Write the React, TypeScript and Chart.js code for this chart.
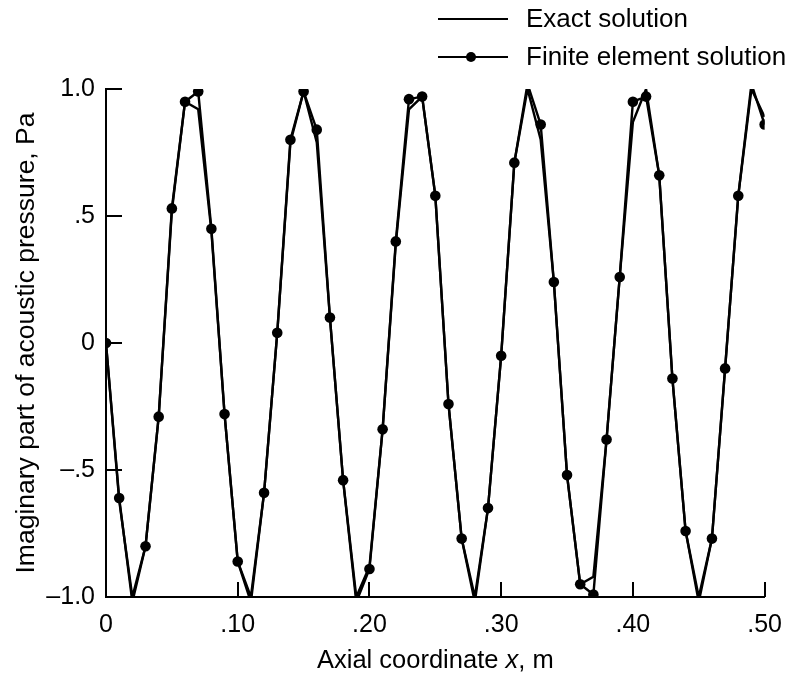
import React, { useEffect, useRef } from "react";
import { Chart, registerables } from "chart.js";

Chart.register(...registerables);

// Axial positions of the finite element nodes, m
const NODE_X = [
  0.0, 0.01, 0.02, 0.03, 0.04, 0.05, 0.06, 0.07, 0.08, 0.09,
  0.1, 0.11, 0.12, 0.13, 0.14, 0.15, 0.16, 0.17, 0.18, 0.19,
  0.2, 0.21, 0.22, 0.23, 0.24, 0.25, 0.26, 0.27, 0.28, 0.29,
  0.3, 0.31, 0.32, 0.33, 0.34, 0.35, 0.36, 0.37, 0.38, 0.39,
  0.4, 0.41, 0.42, 0.43, 0.44, 0.45, 0.46, 0.47, 0.48, 0.49,
  0.5,
];

// Imaginary part of acoustic pressure, Pa — exact solution at the nodes
const EXACT_P = [
  0.0, -0.62, -1.0, -0.8, -0.29, 0.52, 0.95, 0.92, 0.44, -0.28,
  -0.86, -1.0, -0.59, 0.04, 0.79, 0.99, 0.79, 0.1, -0.54, -1.0,
  -0.88, -0.34, 0.39, 0.92, 0.97, 0.58, -0.24, -0.77, -1.0, -0.65,
  -0.05, 0.71, 1.0, 0.8, 0.24, -0.52, -0.95, -0.92, -0.38, 0.26,
  0.87, 1.0, 0.66, -0.14, -0.74, -1.0, -0.77, -0.1, 0.58, 1.0,
  0.89,
];

// Imaginary part of acoustic pressure, Pa — finite element solution
const FEM_P = [
  0.0, -0.61, -1.02, -0.8, -0.29, 0.53, 0.95, 0.99, 0.45, -0.28,
  -0.86, -1.02, -0.59, 0.04, 0.8, 0.99, 0.84, 0.1, -0.54, -1.02,
  -0.89, -0.34, 0.4, 0.96, 0.97, 0.58, -0.24, -0.77, -1.02, -0.65,
  -0.05, 0.71, 1.02, 0.86, 0.24, -0.52, -0.95, -0.99, -0.38, 0.26,
  0.95, 0.97, 0.66, -0.14, -0.74, -1.02, -0.77, -0.1, 0.58, 1.02,
  0.86,
];

const SERIES_NAMES = ["Exact solution", "Finite element solution"];
const X_TICK_LABELS = ["0", ".10", ".20", ".30", ".40", ".50"];
const Y_TICK_LABELS = ["\u20131.0", "\u2013.5", "0", ".5", "1.0"];
const X_TITLE_PARTS = ["Axial coordinate ", "x", ", m"];
const Y_TITLE = "Imaginary part of acoustic pressure, Pa";

const FONT = '"Liberation Sans", Arial, Helvetica, sans-serif';
const INK = "#000000";

// Inward tick marks, axis titles and the key
const decorations = {
  id: "decorations",
  beforeDatasetsDraw(chart: any) {
    const { ctx, chartArea, scales } = chart;
    ctx.save();
    ctx.strokeStyle = INK;
    ctx.lineWidth = 2;
    ctx.beginPath();
    for (const t of scales.x.ticks) {
      const px = Math.round(scales.x.getPixelForValue(t.value));
      ctx.moveTo(px, chartArea.bottom);
      ctx.lineTo(px, chartArea.bottom - 15);
    }
    for (const t of scales.y.ticks) {
      const py = Math.round(scales.y.getPixelForValue(t.value));
      ctx.moveTo(chartArea.left, py);
      ctx.lineTo(chartArea.left + 16, py);
    }
    ctx.stroke();
    ctx.restore();
  },
  afterDraw(chart: any) {
    const { ctx, chartArea } = chart;
    ctx.save();
    ctx.fillStyle = INK;
    ctx.strokeStyle = INK;

    // x-axis title with italic variable
    const upright = `25.5px ${FONT}`;
    const italic = `italic 25.5px ${FONT}`;
    const fonts = [upright, italic, upright];
    const widths = X_TITLE_PARTS.map((s, i) => {
      ctx.font = fonts[i];
      return ctx.measureText(s).width;
    });
    const total = widths.reduce((a, b) => a + b, 0);
    let x = (chartArea.left + chartArea.right) / 2 - total / 2;
    ctx.textBaseline = "alphabetic";
    ctx.textAlign = "left";
    X_TITLE_PARTS.forEach((s, i) => {
      ctx.font = fonts[i];
      ctx.fillText(s, x, 668);
      x += widths[i];
    });

    // y-axis title
    ctx.save();
    ctx.translate(34, (chartArea.top + chartArea.bottom) / 2);
    ctx.rotate(-Math.PI / 2);
    ctx.font = `26.5px ${FONT}`;
    ctx.textAlign = "center";
    ctx.fillText(Y_TITLE, 0, 0);
    ctx.restore();

    // key
    ctx.font = `26px ${FONT}`;
    ctx.textAlign = "left";
    ctx.textBaseline = "middle";
    ctx.lineWidth = 2.2;
    const rows = [19, 57];
    rows.forEach((y, i) => {
      ctx.beginPath();
      ctx.moveTo(438, y);
      ctx.lineTo(508, y);
      ctx.stroke();
      if (i === 1) {
        ctx.beginPath();
        ctx.arc(471, y, 5, 0, Math.PI * 2);
        ctx.fill();
      }
      ctx.fillText(SERIES_NAMES[i], 526, y + 1);
    });
    ctx.restore();
  },
};

export default function App() {
  const canvasRef = useRef<HTMLCanvasElement | null>(null);

  useEffect(() => {
    document.body.style.margin = "0";
    const canvas = canvasRef.current;
    if (!canvas) return;

    const exact = NODE_X.map((x, i) => ({ x, y: EXACT_P[i] }));
    const fem = NODE_X.map((x, i) => ({ x, y: FEM_P[i] }));

    const chart = new Chart(canvas, {
      type: "line",
      data: {
        datasets: [
          {
            label: SERIES_NAMES[0],
            data: exact,
            borderColor: INK,
            borderWidth: 2.4,
            pointRadius: 0,
            tension: 0,
            clip: 0,
          },
          {
            label: SERIES_NAMES[1],
            data: fem,
            borderColor: INK,
            borderWidth: 2.4,
            backgroundColor: INK,
            pointBackgroundColor: INK,
            pointBorderWidth: 0,
            // markers falling outside the plotted range are not drawn
            pointRadius: (c: any) => (Math.abs(c.raw?.y ?? 0) > 1 ? 0 : 5.3),
            tension: 0,
            clip: 0,
          },
        ],
      },
      options: {
        responsive: false,
        animation: false,
        devicePixelRatio: 1,
        layout: { padding: { top: 89, right: 23, left: 0, bottom: 0 } },
        plugins: {
          legend: { display: false },
          tooltip: { enabled: false },
          title: { display: false },
        },
        scales: {
          x: {
            type: "linear",
            min: 0,
            max: 0.5,
            afterFit: (s: any) => {
              s.height = 86;
            },
            grid: { display: false, drawTicks: false },
            border: { display: true, width: 2, color: INK },
            ticks: {
              stepSize: 0.1,
              autoSkip: false,
              maxRotation: 0,
              padding: 13,
              color: INK,
              font: { family: FONT, size: 25 },
              callback: (_v: any, i: number) => X_TICK_LABELS[i],
            },
          },
          y: {
            type: "linear",
            min: -1,
            max: 1,
            afterFit: (s: any) => {
              s.width = 106;
            },
            grid: { display: false, drawTicks: false },
            border: { display: true, width: 2, color: INK },
            ticks: {
              stepSize: 0.5,
              autoSkip: false,
              padding: 11,
              color: INK,
              font: { family: FONT, size: 25 },
              callback: (_v: any, i: number) => Y_TICK_LABELS[i],
            },
          },
        },
      },
      plugins: [decorations],
    });

    return () => chart.destroy();
  }, []);

  return (
    <div style={{ position: "absolute", left: 0, top: 0, width: 795, height: 683 }}>
      <canvas ref={canvasRef} width={795} height={683} />
    </div>
  );
}
